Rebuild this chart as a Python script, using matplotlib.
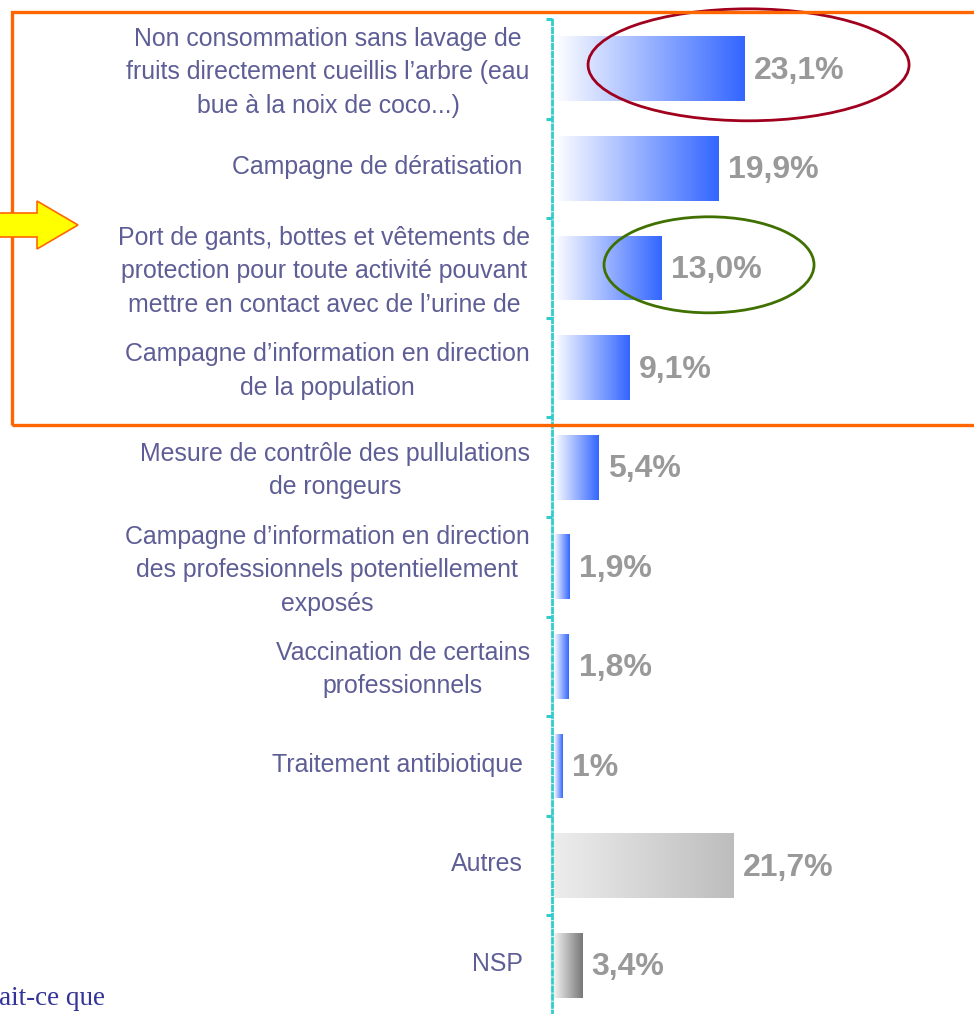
import numpy as np
import matplotlib.pyplot as plt
from matplotlib.colors import LinearSegmentedColormap
from matplotlib.patches import Rectangle, Ellipse, Polygon

plt.rcParams['font.family'] = ['Liberation Sans', 'DejaVu Sans']

categories = [
    "Non consommation sans lavage de\nfruits directement cueillis l\u2019arbre (eau\nbue \u00e0 la noix de coco...)",
    "Campagne de d\u00e9ratisation",
    "Port de gants, bottes et v\u00eatements de\nprotection pour toute activit\u00e9 pouvant\nmettre en contact avec de l\u2019urine de",
    "Campagne d\u2019information en direction\nde la population",
    "Mesure de contr\u00f4le des pullulations\nde rongeurs",
    "Campagne d\u2019information en direction\ndes professionnels potentiellement\nexpos\u00e9s",
    "Vaccination de certains\nprofessionnels",
    "Traitement antibiotique",
    "Autres",
    "NSP",
]
values = [23.1, 19.9, 13.0, 9.1, 5.4, 1.9, 1.8, 1.0, 21.7, 3.4]
value_labels = ["23,1%", "19,9%", "13,0%", "9,1%", "5,4%", "1,9%", "1,8%", "1%", "21,7%", "3,4%"]
# gradient (left colour, right colour) for each bar
gradients = [("#FFFFFF", "#3366FF")] * 8 + [("#EDEDED", "#BDBDBD"), ("#F2F2F2", "#777777")]

W, H = 974, 1014
fig = plt.figure(figsize=(W / 100, H / 100), dpi=100)
ax = fig.add_axes([552 / W, -1 / H, 422 / W, 996 / H])

y = np.arange(len(values))
bars = ax.barh(y, values, height=0.65, left=0, color="none", edgecolor="none")
grad = np.linspace(0, 1, 256).reshape(1, -1)
for bar, (c0, c1) in zip(bars, gradients):
    cmap = LinearSegmentedColormap.from_list("g", [c0, c1])
    x0, y0 = bar.get_x(), bar.get_y()
    w, h = bar.get_width(), bar.get_height()
    im = ax.imshow(grad, cmap=cmap, aspect="auto", extent=[x0, x0 + w, y0 + h, y0],
                   interpolation="bilinear", zorder=2)
    im.set_clip_path(bar)

for bar, lab in zip(bars, value_labels):
    ax.annotate(lab, (bar.get_width(), bar.get_y() + bar.get_height() / 2),
                xytext=(7, -1.5), textcoords="offset points", ha="left", va="center",
                fontsize=23, fontweight="bold", color="#999999")

ax.set_xlim(-0.24, 50.9)
ax.set_ylim(9.5, -0.5)

# labels sit a few pixels above the bar centres in the original
ax.set_yticks(y - 0.04)
ax.set_yticklabels(categories, fontsize=17.9, color="#5E5E96", linespacing=1.5)
for tick, lab in zip(ax.yaxis.get_major_ticks(), categories):
    tick.set_pad(16 if "\n" in lab else 21)
    tick.label1.set_multialignment("center")
ax.tick_params(axis="y", which="major", length=0)
ax.set_yticks(np.arange(-0.5, 10, 1), minor=True)
ax.tick_params(axis="y", which="minor", length=4.5, width=2.2, color="#33CCCC", direction="out")
ax.set_xticks([])
for s in ["top", "right", "bottom"]:
    ax.spines[s].set_visible(False)
ax.spines["left"].set_color("#33CCCC")
ax.spines["left"].set_linewidth(2.0)
ax.spines["left"].set_linestyle((0, (1.6, 1.3)))

# highlight ellipses around the key answers
ax.add_patch(Ellipse((23.58, -0.04), 38.9, 1.124, fill=False, edgecolor="#A0001E",
                     linewidth=2.0, clip_on=False, zorder=6))
ax.add_patch(Ellipse((18.79, 1.968), 25.45, 0.964, fill=False, edgecolor="#3F7000",
                     linewidth=2.0, clip_on=False, zorder=6))

# orange frame around the top four answers
fig.add_artist(Rectangle((12 / W, 1 - 425 / H), 1.0, 413 / H, transform=fig.transFigure,
                         fill=False, edgecolor="#FF6600", linewidth=2.4, zorder=5))

# yellow arrow on the left
arrow_px = [(-5, 213), (37, 213), (37, 201), (78, 225), (37, 249), (37, 237), (-5, 237)]
fig.add_artist(Polygon([(px / W, 1 - py / H) for px, py in arrow_px], closed=True,
                       transform=fig.transFigure, facecolor="#FFFF00", edgecolor="#FF6600",
                       linewidth=1.2, zorder=7))

fig.text(-1 / W, 1 - 1005 / H, "ait-ce que", family="Liberation Serif", fontsize=19.5,
         color="#333399", ha="left", va="baseline")

fig.savefig("out.png", dpi=100)
